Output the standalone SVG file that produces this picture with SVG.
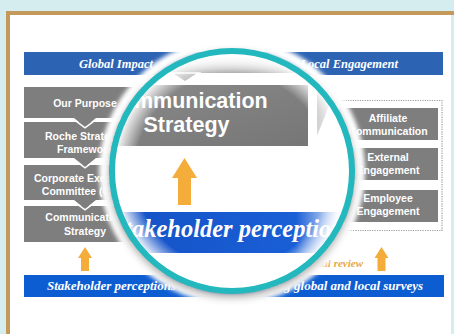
<svg xmlns="http://www.w3.org/2000/svg" width="454" height="334" viewBox="0 0 454 334">
<defs>
<style>
.box{fill:#7e7e7e}
.bt{font-family:"Liberation Sans",Arial,sans-serif;font-weight:bold;font-size:10.5px;fill:#fff;text-anchor:middle}
.st{font-family:"Liberation Serif","Times New Roman",serif;font-style:italic;font-weight:bold;fill:#fff}
.arr{fill:#f4ad3b}
.gap{fill:none;stroke:#fff;stroke-width:1.5}
</style>
<clipPath id="lens"><circle cx="232" cy="171" r="117.5"/></clipPath>
<radialGradient id="glow" cx="232" cy="171" r="118" gradientUnits="userSpaceOnUse">
<stop offset="0.82" stop-color="#fff" stop-opacity="0"/>
<stop offset="1" stop-color="#fff" stop-opacity="0.95"/>
</radialGradient>
<linearGradient id="mband" x1="0" y1="0" x2="1" y2="0">
<stop offset="0" stop-color="#1450c4"/>
<stop offset="0.8" stop-color="#1a5fd6"/>
<stop offset="1" stop-color="#1a5fd6" stop-opacity="0"/>
</linearGradient>
<linearGradient id="mbox" x1="0" y1="0" x2="1" y2="1">
<stop offset="0" stop-color="#8a8a8a"/>
<stop offset="1" stop-color="#767676"/>
</linearGradient>
<linearGradient id="mtop" x1="0" y1="0" x2="0" y2="1">
<stop offset="0" stop-color="#e6e6e6" stop-opacity="0.2"/>
<stop offset="1" stop-color="#a8a8a8"/>
</linearGradient>
<linearGradient id="mtri" x1="0" y1="0" x2="0" y2="1">
<stop offset="0" stop-color="#9a9a9a"/>
<stop offset="1" stop-color="#e0e0e0"/>
</linearGradient>
<filter id="shadow" x="-20%" y="-20%" width="140%" height="140%">
<feDropShadow dx="0" dy="4" stdDeviation="4" flood-color="#000" flood-opacity="0.35"/>
</filter>
<filter id="blur" x="-20%" y="-20%" width="140%" height="140%">
<feGaussianBlur stdDeviation="2"/>
</filter>
</defs>

<!-- background and frame -->
<rect x="0" y="0" width="454" height="334" fill="#d6edf0"/>
<rect x="10" y="15" width="441" height="319" fill="#fff"/>
<rect x="6" y="11" width="448" height="4" fill="#c4995c"/>
<rect x="6" y="11" width="4" height="323" fill="#c4995c"/>

<!-- top band -->
<g id="top-band">
<rect x="24" y="52" width="419" height="23" fill="#2c63b3"/>
<text class="st" x="116" y="68" font-size="12.5" text-anchor="middle">Global Impact</text>
<text class="st" x="398" y="68" font-size="12.5" text-anchor="end">Local Engagement</text>
</g>

<!-- left column -->
<g id="our-purpose">
<rect class="box" x="24" y="87" width="122" height="31"/>
<text class="bt" x="85" y="107">Our Purpose</text>
</g>
<g id="roche-strategic-framework">
<rect class="box" x="24" y="122" width="122" height="36"/>
<text class="bt" x="85" y="139.5">Roche Strategic</text>
<text class="bt" x="85" y="152.5">Framework</text>
</g>
<g id="cec">
<rect class="box" x="24" y="165" width="122" height="35"/>
<text class="bt" x="85" y="182">Corporate Executive</text>
<text class="bt" x="85" y="195">Committee (CEC)</text>
</g>
<g id="communication-strategy">
<rect class="box" x="24" y="206" width="122" height="36"/>
<text class="bt" x="85" y="221">Communication</text>
<text class="bt" x="85" y="235">Strategy</text>
</g>

<!-- right column -->
<g id="local-group">
<rect x="333.5" y="100.5" width="108.5" height="130" fill="none" stroke="#9c9c9c" stroke-width="1.2" stroke-dasharray="1.2 1.2"/>
</g>
<g id="affiliate-communication">
<rect class="box" x="339" y="108" width="99" height="32"/>
<text class="bt" x="388" y="122">Affiliate</text>
<text class="bt" x="388" y="135">Communication</text>
</g>
<g id="external-engagement">
<rect class="box" x="339" y="148" width="99" height="32"/>
<text class="bt" x="388" y="161">External</text>
<text class="bt" x="388" y="174">Engagement</text>
</g>
<g id="employee-engagement">
<rect class="box" x="339" y="190" width="99" height="32"/>
<text class="bt" x="388" y="202">Employee</text>
<text class="bt" x="388" y="215">Engagement</text>
</g>

<!-- connectors -->
<g id="connectors">
<polygon class="box" points="74,118 96,118 85,127"/>
<polyline class="gap" points="73,118.8 85,127.8 97,118.8"/>
<polygon class="box" points="74,158 96,158 85,167"/>
<polyline class="gap" points="73,158.8 85,167.8 97,158.8"/>
<polygon class="box" points="74,200 96,200 85,209"/>
<polyline class="gap" points="73,200.8 85,209.8 97,200.8"/>
<polygon class="arr" points="78,258 85,247 92,258 89,258 89,271 81,271 81,258"/>
<polygon class="arr" points="374.5,258 381.5,247 388.5,258 385.5,258 385.5,271 377.5,271 377.5,258"/>
</g>

<text x="363" y="267" font-family="Liberation Serif, Times New Roman, serif" font-style="italic" font-weight="bold" font-size="11" fill="#e9a63e" text-anchor="end">Annual review</text>

<!-- bottom band -->
<g id="bottom-band">
<rect x="24" y="275" width="420" height="22" fill="#0d5dd2"/>
<text class="st" x="47" y="290" font-size="13">Stakeholder perceptions captured</text>
<text class="st" x="423" y="290" font-size="13" text-anchor="end">using global and local surveys</text>
</g>

<!-- magnifier -->
<g id="magnifier">
<circle cx="232" cy="171" r="127" fill="none" stroke="#fff" stroke-width="12" filter="url(#blur)"/>
<circle cx="232" cy="171" r="122" fill="#fff" filter="url(#shadow)"/>
<g clip-path="url(#lens)">
<rect x="105" y="48" width="250" height="250" fill="#fff"/>
<rect x="150" y="56" width="170" height="17" fill="url(#mtop)"/>
<polygon points="171,73 199,73 185,82" fill="#b0b0b0" stroke="#fff" stroke-width="1.5"/>
<rect x="100" y="85" width="208" height="61" fill="url(#mbox)"/>
<text x="186.5" y="108" font-family="Liberation Sans, Arial, sans-serif" font-weight="bold" font-size="21.5" fill="#fff" text-anchor="middle">Communication</text>
<text x="186.5" y="132" font-family="Liberation Sans, Arial, sans-serif" font-weight="bold" font-size="21.5" fill="#fff" text-anchor="middle">Strategy</text>
<polygon points="317,86 337,86 317,136" fill="url(#mtri)"/>
<polygon class="arr" points="172,178 184.5,158 197,178 191,178 191,205 178,205 178,178"/>
<rect x="100" y="212" width="245" height="41" fill="url(#mband)"/>
<text class="st" x="111.5" y="237" font-size="24.5">Stakeholder perceptions</text>
<circle cx="232" cy="171" r="118" fill="url(#glow)"/>
</g>
<circle cx="232" cy="171" r="120" fill="none" stroke="#22b8bd" stroke-width="6"/>
</g>
</svg>
